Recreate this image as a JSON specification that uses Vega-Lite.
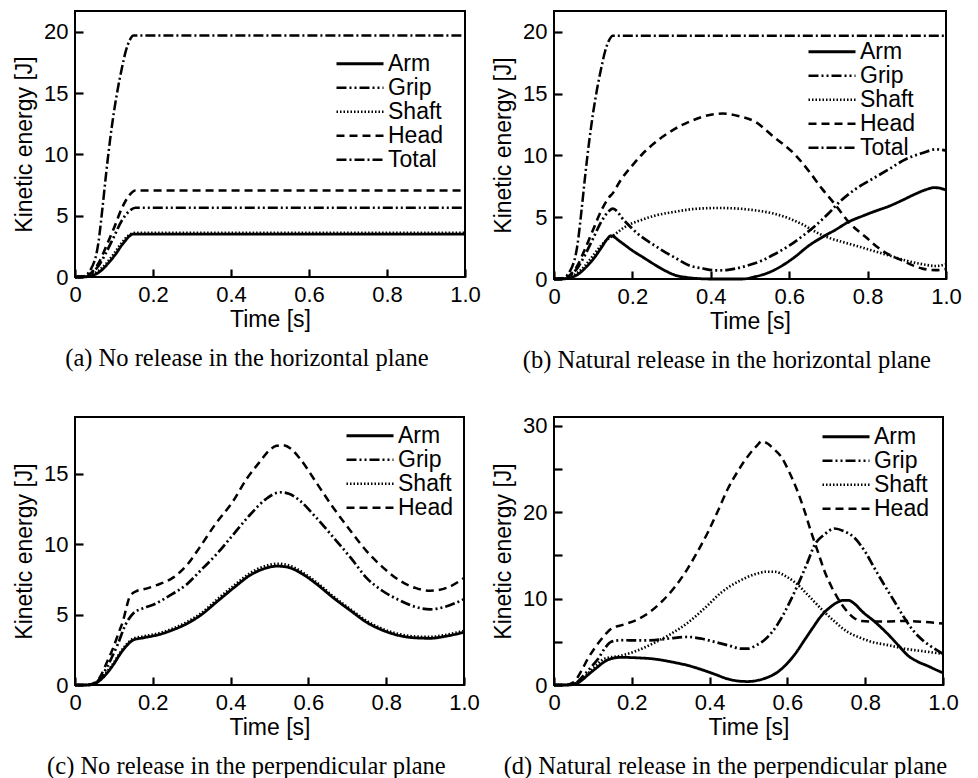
{
  "$schema": "https://vega.github.io/schema/vega-lite/v6.json",
  "background": "white",
  "padding": {"left": 12, "top": 10, "right": 5, "bottom": 0},
  "columns": 2,
  "bounds": "flush",
  "spacing": {"row": 138, "column": 89},
  "resolve": {"scale": {"strokeDash": "independent", "strokeWidth": "independent", "y": "independent"}, "legend": {"strokeDash": "independent"}},
  "config": {
    "view": {"stroke": "black", "strokeWidth": 2},
    "axis": {"labelFont": "Liberation Sans", "labelFontSize": 22, "titleFont": "Liberation Sans", "titleFontSize": 23, "titleFontWeight": "normal", "labelColor": "black", "titleColor": "black", "domain": false, "grid": false, "labelFlush": false},
    "axisX": {"titlePadding": 3},
    "axisY": {"titlePadding": 7},
    "legend": {"orient": "none", "title": null, "labelFont": "Liberation Sans", "labelFontSize": 23, "labelColor": "black", "symbolType": "stroke", "symbolSize": 2209, "symbolStrokeColor": "black", "symbolStrokeWidth": 2.5, "clipHeight": 21.5, "rowPadding": 0, "labelOffset": 3, "padding": 0},
    "title": {"font": "Liberation Serif", "fontSize": 24.5, "fontWeight": "normal", "color": "black", "orient": "bottom", "anchor": "middle", "frame": "bounds", "offset": 16}
  },
  "datasets": {
    "a": [
      {"t":0,"s":"Arm","v":0},{"t":0.02,"s":"Arm","v":0},{"t":0.04,"s":"Arm","v":0.1},{"t":0.06,"s":"Arm","v":0.35},{"t":0.073,"s":"Arm","v":0.7},{"t":0.09,"s":"Arm","v":1.3},{"t":0.105,"s":"Arm","v":1.9},{"t":0.12,"s":"Arm","v":2.6},{"t":0.13,"s":"Arm","v":3.0},{"t":0.14,"s":"Arm","v":3.35},{"t":0.15,"s":"Arm","v":3.5},{"t":1,"s":"Arm","v":3.5},
      {"t":0,"s":"Grip","v":0},{"t":0.02,"s":"Grip","v":0.03},{"t":0.04,"s":"Grip","v":0.25},{"t":0.06,"s":"Grip","v":0.9},{"t":0.08,"s":"Grip","v":2.0},{"t":0.1,"s":"Grip","v":3.3},{"t":0.12,"s":"Grip","v":4.6},{"t":0.14,"s":"Grip","v":5.4},{"t":0.155,"s":"Grip","v":5.65},{"t":1,"s":"Grip","v":5.65},
      {"t":0,"s":"Shaft","v":0},{"t":0.02,"s":"Shaft","v":0.02},{"t":0.04,"s":"Shaft","v":0.15},{"t":0.06,"s":"Shaft","v":0.5},{"t":0.08,"s":"Shaft","v":1.1},{"t":0.1,"s":"Shaft","v":1.9},{"t":0.12,"s":"Shaft","v":2.8},{"t":0.14,"s":"Shaft","v":3.45},{"t":0.155,"s":"Shaft","v":3.6},{"t":1,"s":"Shaft","v":3.6},
      {"t":0,"s":"Head","v":0},{"t":0.02,"s":"Head","v":0.03},{"t":0.04,"s":"Head","v":0.3},{"t":0.06,"s":"Head","v":1.1},{"t":0.08,"s":"Head","v":2.5},{"t":0.1,"s":"Head","v":4.0},{"t":0.12,"s":"Head","v":5.6},{"t":0.14,"s":"Head","v":6.7},{"t":0.155,"s":"Head","v":7.05},{"t":1,"s":"Head","v":7.05},
      {"t":0,"s":"Total","v":0},{"t":0.02,"s":"Total","v":0.05},{"t":0.04,"s":"Total","v":0.6},{"t":0.06,"s":"Total","v":2.8},{"t":0.07,"s":"Total","v":5.5},{"t":0.08,"s":"Total","v":8.5},{"t":0.09,"s":"Total","v":11.2},{"t":0.1,"s":"Total","v":13.5},{"t":0.11,"s":"Total","v":15.4},{"t":0.12,"s":"Total","v":17.0},{"t":0.13,"s":"Total","v":18.4},{"t":0.14,"s":"Total","v":19.3},{"t":0.15,"s":"Total","v":19.7},{"t":1,"s":"Total","v":19.7}
    ],
    "b": [
      {"t":0,"s":"Arm","v":0},{"t":0.02,"s":"Arm","v":0},{"t":0.04,"s":"Arm","v":0.1},{"t":0.06,"s":"Arm","v":0.35},{"t":0.08,"s":"Arm","v":0.9},{"t":0.1,"s":"Arm","v":1.6},{"t":0.12,"s":"Arm","v":2.5},{"t":0.135,"s":"Arm","v":3.2},{"t":0.145,"s":"Arm","v":3.5},{"t":0.17,"s":"Arm","v":3.0},{"t":0.2,"s":"Arm","v":2.3},{"t":0.23,"s":"Arm","v":1.7},{"t":0.26,"s":"Arm","v":1.1},{"t":0.285,"s":"Arm","v":0.65},{"t":0.31,"s":"Arm","v":0.3},{"t":0.34,"s":"Arm","v":0.12},{"t":0.37,"s":"Arm","v":0.03},{"t":0.4,"s":"Arm","v":0},{"t":0.48,"s":"Arm","v":0},{"t":0.515,"s":"Arm","v":0.2},{"t":0.55,"s":"Arm","v":0.55},{"t":0.583,"s":"Arm","v":1.1},{"t":0.615,"s":"Arm","v":1.8},{"t":0.65,"s":"Arm","v":2.7},{"t":0.685,"s":"Arm","v":3.4},{"t":0.719,"s":"Arm","v":4.0},{"t":0.75,"s":"Arm","v":4.6},{"t":0.787,"s":"Arm","v":5.1},{"t":0.82,"s":"Arm","v":5.5},{"t":0.855,"s":"Arm","v":5.9},{"t":0.89,"s":"Arm","v":6.4},{"t":0.923,"s":"Arm","v":6.9},{"t":0.95,"s":"Arm","v":7.25},{"t":0.969,"s":"Arm","v":7.4},{"t":0.985,"s":"Arm","v":7.35},{"t":1,"s":"Arm","v":7.2},
      {"t":0,"s":"Grip","v":0},{"t":0.02,"s":"Grip","v":0.03},{"t":0.04,"s":"Grip","v":0.25},{"t":0.06,"s":"Grip","v":0.9},{"t":0.08,"s":"Grip","v":2.0},{"t":0.1,"s":"Grip","v":3.3},{"t":0.12,"s":"Grip","v":4.6},{"t":0.14,"s":"Grip","v":5.5},{"t":0.15,"s":"Grip","v":5.7},{"t":0.18,"s":"Grip","v":4.7},{"t":0.22,"s":"Grip","v":3.5},{"t":0.25,"s":"Grip","v":2.85},{"t":0.277,"s":"Grip","v":2.3},{"t":0.31,"s":"Grip","v":1.7},{"t":0.345,"s":"Grip","v":1.1},{"t":0.38,"s":"Grip","v":0.85},{"t":0.412,"s":"Grip","v":0.7},{"t":0.44,"s":"Grip","v":0.72},{"t":0.463,"s":"Grip","v":0.84},{"t":0.5,"s":"Grip","v":1.15},{"t":0.531,"s":"Grip","v":1.5},{"t":0.565,"s":"Grip","v":2.05},{"t":0.6,"s":"Grip","v":2.7},{"t":0.635,"s":"Grip","v":3.5},{"t":0.668,"s":"Grip","v":4.35},{"t":0.7,"s":"Grip","v":5.3},{"t":0.727,"s":"Grip","v":6.2},{"t":0.77,"s":"Grip","v":7.3},{"t":0.812,"s":"Grip","v":8.1},{"t":0.855,"s":"Grip","v":8.9},{"t":0.897,"s":"Grip","v":9.7},{"t":0.94,"s":"Grip","v":10.2},{"t":0.974,"s":"Grip","v":10.5},{"t":1,"s":"Grip","v":10.4},
      {"t":0,"s":"Shaft","v":0},{"t":0.02,"s":"Shaft","v":0.02},{"t":0.04,"s":"Shaft","v":0.15},{"t":0.06,"s":"Shaft","v":0.5},{"t":0.08,"s":"Shaft","v":1.1},{"t":0.1,"s":"Shaft","v":1.9},{"t":0.12,"s":"Shaft","v":2.7},{"t":0.14,"s":"Shaft","v":3.3},{"t":0.15,"s":"Shaft","v":3.5},{"t":0.18,"s":"Shaft","v":4.2},{"t":0.22,"s":"Shaft","v":4.75},{"t":0.26,"s":"Shaft","v":5.15},{"t":0.31,"s":"Shaft","v":5.45},{"t":0.36,"s":"Shaft","v":5.68},{"t":0.42,"s":"Shaft","v":5.75},{"t":0.47,"s":"Shaft","v":5.7},{"t":0.515,"s":"Shaft","v":5.55},{"t":0.56,"s":"Shaft","v":5.3},{"t":0.6,"s":"Shaft","v":4.9},{"t":0.635,"s":"Shaft","v":4.4},{"t":0.668,"s":"Shaft","v":3.8},{"t":0.7,"s":"Shaft","v":3.35},{"t":0.736,"s":"Shaft","v":3.0},{"t":0.775,"s":"Shaft","v":2.65},{"t":0.812,"s":"Shaft","v":2.3},{"t":0.855,"s":"Shaft","v":1.9},{"t":0.897,"s":"Shaft","v":1.5},{"t":0.94,"s":"Shaft","v":1.2},{"t":0.974,"s":"Shaft","v":1.05},{"t":1,"s":"Shaft","v":1.2},
      {"t":0,"s":"Head","v":0},{"t":0.02,"s":"Head","v":0.03},{"t":0.04,"s":"Head","v":0.3},{"t":0.06,"s":"Head","v":1.1},{"t":0.08,"s":"Head","v":2.5},{"t":0.1,"s":"Head","v":4.0},{"t":0.12,"s":"Head","v":5.5},{"t":0.14,"s":"Head","v":6.6},{"t":0.15,"s":"Head","v":6.95},{"t":0.17,"s":"Head","v":8.0},{"t":0.2,"s":"Head","v":9.2},{"t":0.225,"s":"Head","v":10.1},{"t":0.26,"s":"Head","v":11.1},{"t":0.3,"s":"Head","v":12.0},{"t":0.35,"s":"Head","v":12.8},{"t":0.4,"s":"Head","v":13.3},{"t":0.43,"s":"Head","v":13.4},{"t":0.47,"s":"Head","v":13.2},{"t":0.515,"s":"Head","v":12.7},{"t":0.557,"s":"Head","v":11.6},{"t":0.617,"s":"Head","v":10.0},{"t":0.651,"s":"Head","v":8.7},{"t":0.684,"s":"Head","v":7.3},{"t":0.718,"s":"Head","v":6.0},{"t":0.752,"s":"Head","v":4.6},{"t":0.795,"s":"Head","v":3.4},{"t":0.837,"s":"Head","v":2.3},{"t":0.888,"s":"Head","v":1.5},{"t":0.94,"s":"Head","v":0.84},{"t":0.974,"s":"Head","v":0.72},{"t":1,"s":"Head","v":0.8},
      {"t":0,"s":"Total","v":0},{"t":0.02,"s":"Total","v":0.05},{"t":0.04,"s":"Total","v":0.6},{"t":0.06,"s":"Total","v":2.8},{"t":0.07,"s":"Total","v":5.5},{"t":0.08,"s":"Total","v":8.5},{"t":0.09,"s":"Total","v":11.2},{"t":0.1,"s":"Total","v":13.5},{"t":0.11,"s":"Total","v":15.4},{"t":0.12,"s":"Total","v":17.0},{"t":0.13,"s":"Total","v":18.4},{"t":0.14,"s":"Total","v":19.3},{"t":0.15,"s":"Total","v":19.7},{"t":1,"s":"Total","v":19.7}
    ],
    "c": [
      {"t":0,"s":"Arm","v":0},{"t":0.03,"s":"Arm","v":0},{"t":0.047,"s":"Arm","v":0.05},{"t":0.065,"s":"Arm","v":0.35},{"t":0.081,"s":"Arm","v":0.8},{"t":0.1,"s":"Arm","v":1.5},{"t":0.116,"s":"Arm","v":2.2},{"t":0.133,"s":"Arm","v":2.8},{"t":0.15,"s":"Arm","v":3.2},{"t":0.175,"s":"Arm","v":3.35},{"t":0.218,"s":"Arm","v":3.6},{"t":0.25,"s":"Arm","v":3.9},{"t":0.287,"s":"Arm","v":4.35},{"t":0.325,"s":"Arm","v":5.0},{"t":0.364,"s":"Arm","v":5.9},{"t":0.41,"s":"Arm","v":6.95},{"t":0.45,"s":"Arm","v":7.8},{"t":0.49,"s":"Arm","v":8.3},{"t":0.52,"s":"Arm","v":8.45},{"t":0.55,"s":"Arm","v":8.35},{"t":0.578,"s":"Arm","v":8.0},{"t":0.62,"s":"Arm","v":7.2},{"t":0.664,"s":"Arm","v":6.2},{"t":0.71,"s":"Arm","v":5.25},{"t":0.75,"s":"Arm","v":4.45},{"t":0.79,"s":"Arm","v":3.9},{"t":0.836,"s":"Arm","v":3.5},{"t":0.875,"s":"Arm","v":3.35},{"t":0.913,"s":"Arm","v":3.32},{"t":0.95,"s":"Arm","v":3.45},{"t":1,"s":"Arm","v":3.75},
      {"t":0,"s":"Grip","v":0},{"t":0.03,"s":"Grip","v":0},{"t":0.05,"s":"Grip","v":0.1},{"t":0.07,"s":"Grip","v":0.7},{"t":0.09,"s":"Grip","v":1.7},{"t":0.11,"s":"Grip","v":2.9},{"t":0.13,"s":"Grip","v":4.3},{"t":0.15,"s":"Grip","v":5.1},{"t":0.175,"s":"Grip","v":5.45},{"t":0.201,"s":"Grip","v":5.7},{"t":0.24,"s":"Grip","v":6.3},{"t":0.287,"s":"Grip","v":7.15},{"t":0.325,"s":"Grip","v":8.2},{"t":0.364,"s":"Grip","v":9.3},{"t":0.41,"s":"Grip","v":10.8},{"t":0.45,"s":"Grip","v":12.1},{"t":0.49,"s":"Grip","v":13.2},{"t":0.527,"s":"Grip","v":13.7},{"t":0.55,"s":"Grip","v":13.6},{"t":0.578,"s":"Grip","v":13.1},{"t":0.62,"s":"Grip","v":11.9},{"t":0.664,"s":"Grip","v":10.5},{"t":0.71,"s":"Grip","v":9.0},{"t":0.75,"s":"Grip","v":7.6},{"t":0.79,"s":"Grip","v":6.7},{"t":0.836,"s":"Grip","v":6.0},{"t":0.875,"s":"Grip","v":5.55},{"t":0.913,"s":"Grip","v":5.38},{"t":0.95,"s":"Grip","v":5.55},{"t":1,"s":"Grip","v":6.1},
      {"t":0,"s":"Shaft","v":0},{"t":0.03,"s":"Shaft","v":0},{"t":0.047,"s":"Shaft","v":0.08},{"t":0.065,"s":"Shaft","v":0.42},{"t":0.081,"s":"Shaft","v":0.9},{"t":0.1,"s":"Shaft","v":1.6},{"t":0.116,"s":"Shaft","v":2.3},{"t":0.133,"s":"Shaft","v":2.9},{"t":0.15,"s":"Shaft","v":3.3},{"t":0.175,"s":"Shaft","v":3.45},{"t":0.218,"s":"Shaft","v":3.7},{"t":0.25,"s":"Shaft","v":4.0},{"t":0.287,"s":"Shaft","v":4.47},{"t":0.325,"s":"Shaft","v":5.12},{"t":0.364,"s":"Shaft","v":6.05},{"t":0.41,"s":"Shaft","v":7.1},{"t":0.45,"s":"Shaft","v":7.95},{"t":0.49,"s":"Shaft","v":8.47},{"t":0.52,"s":"Shaft","v":8.62},{"t":0.55,"s":"Shaft","v":8.5},{"t":0.578,"s":"Shaft","v":8.13},{"t":0.62,"s":"Shaft","v":7.32},{"t":0.664,"s":"Shaft","v":6.3},{"t":0.71,"s":"Shaft","v":5.35},{"t":0.75,"s":"Shaft","v":4.55},{"t":0.79,"s":"Shaft","v":4.0},{"t":0.836,"s":"Shaft","v":3.6},{"t":0.875,"s":"Shaft","v":3.45},{"t":0.913,"s":"Shaft","v":3.42},{"t":0.95,"s":"Shaft","v":3.55},{"t":1,"s":"Shaft","v":3.85},
      {"t":0,"s":"Head","v":0},{"t":0.03,"s":"Head","v":0},{"t":0.05,"s":"Head","v":0.15},{"t":0.064,"s":"Head","v":0.55},{"t":0.08,"s":"Head","v":1.5},{"t":0.099,"s":"Head","v":2.7},{"t":0.112,"s":"Head","v":3.7},{"t":0.124,"s":"Head","v":4.6},{"t":0.133,"s":"Head","v":5.6},{"t":0.141,"s":"Head","v":6.3},{"t":0.16,"s":"Head","v":6.7},{"t":0.176,"s":"Head","v":6.8},{"t":0.21,"s":"Head","v":7.1},{"t":0.253,"s":"Head","v":7.65},{"t":0.29,"s":"Head","v":8.6},{"t":0.321,"s":"Head","v":9.8},{"t":0.36,"s":"Head","v":11.4},{"t":0.407,"s":"Head","v":13.1},{"t":0.44,"s":"Head","v":14.6},{"t":0.476,"s":"Head","v":15.9},{"t":0.5,"s":"Head","v":16.7},{"t":0.518,"s":"Head","v":17.0},{"t":0.535,"s":"Head","v":17.05},{"t":0.555,"s":"Head","v":16.8},{"t":0.578,"s":"Head","v":16.1},{"t":0.62,"s":"Head","v":14.4},{"t":0.664,"s":"Head","v":12.6},{"t":0.71,"s":"Head","v":10.9},{"t":0.75,"s":"Head","v":9.5},{"t":0.79,"s":"Head","v":8.4},{"t":0.836,"s":"Head","v":7.4},{"t":0.875,"s":"Head","v":6.9},{"t":0.913,"s":"Head","v":6.7},{"t":0.955,"s":"Head","v":6.9},{"t":1,"s":"Head","v":7.6}
    ],
    "d": [
      {"t":0,"s":"Arm","v":0},{"t":0.03,"s":"Arm","v":0},{"t":0.055,"s":"Arm","v":0.1},{"t":0.07,"s":"Arm","v":0.5},{"t":0.087,"s":"Arm","v":1.16},{"t":0.11,"s":"Arm","v":2.0},{"t":0.13,"s":"Arm","v":2.7},{"t":0.147,"s":"Arm","v":3.05},{"t":0.173,"s":"Arm","v":3.2},{"t":0.21,"s":"Arm","v":3.15},{"t":0.259,"s":"Arm","v":3.0},{"t":0.31,"s":"Arm","v":2.6},{"t":0.345,"s":"Arm","v":2.25},{"t":0.378,"s":"Arm","v":1.8},{"t":0.41,"s":"Arm","v":1.3},{"t":0.447,"s":"Arm","v":0.7},{"t":0.475,"s":"Arm","v":0.45},{"t":0.499,"s":"Arm","v":0.4},{"t":0.525,"s":"Arm","v":0.55},{"t":0.55,"s":"Arm","v":0.9},{"t":0.575,"s":"Arm","v":1.5},{"t":0.593,"s":"Arm","v":2.2},{"t":0.62,"s":"Arm","v":3.6},{"t":0.644,"s":"Arm","v":5.2},{"t":0.665,"s":"Arm","v":6.6},{"t":0.687,"s":"Arm","v":8.0},{"t":0.71,"s":"Arm","v":9.0},{"t":0.73,"s":"Arm","v":9.6},{"t":0.745,"s":"Arm","v":9.8},{"t":0.756,"s":"Arm","v":9.8},{"t":0.775,"s":"Arm","v":9.3},{"t":0.79,"s":"Arm","v":8.6},{"t":0.825,"s":"Arm","v":7.3},{"t":0.858,"s":"Arm","v":5.9},{"t":0.885,"s":"Arm","v":4.6},{"t":0.91,"s":"Arm","v":3.4},{"t":0.935,"s":"Arm","v":2.7},{"t":0.961,"s":"Arm","v":2.2},{"t":0.98,"s":"Arm","v":1.8},{"t":1,"s":"Arm","v":1.4},
      {"t":0,"s":"Grip","v":0},{"t":0.03,"s":"Grip","v":0},{"t":0.055,"s":"Grip","v":0.2},{"t":0.08,"s":"Grip","v":1.3},{"t":0.1,"s":"Grip","v":2.3},{"t":0.113,"s":"Grip","v":3.0},{"t":0.13,"s":"Grip","v":4.2},{"t":0.147,"s":"Grip","v":5.0},{"t":0.173,"s":"Grip","v":5.18},{"t":0.215,"s":"Grip","v":5.15},{"t":0.259,"s":"Grip","v":5.2},{"t":0.3,"s":"Grip","v":5.4},{"t":0.344,"s":"Grip","v":5.56},{"t":0.38,"s":"Grip","v":5.35},{"t":0.413,"s":"Grip","v":4.98},{"t":0.455,"s":"Grip","v":4.5},{"t":0.48,"s":"Grip","v":4.2},{"t":0.499,"s":"Grip","v":4.2},{"t":0.52,"s":"Grip","v":4.6},{"t":0.541,"s":"Grip","v":5.2},{"t":0.562,"s":"Grip","v":6.2},{"t":0.584,"s":"Grip","v":7.7},{"t":0.605,"s":"Grip","v":9.5},{"t":0.627,"s":"Grip","v":11.6},{"t":0.65,"s":"Grip","v":14.0},{"t":0.67,"s":"Grip","v":16.2},{"t":0.695,"s":"Grip","v":17.4},{"t":0.721,"s":"Grip","v":18.1},{"t":0.745,"s":"Grip","v":17.8},{"t":0.773,"s":"Grip","v":17.0},{"t":0.8,"s":"Grip","v":15.4},{"t":0.824,"s":"Grip","v":13.5},{"t":0.85,"s":"Grip","v":11.5},{"t":0.876,"s":"Grip","v":9.6},{"t":0.9,"s":"Grip","v":7.8},{"t":0.927,"s":"Grip","v":6.1},{"t":0.95,"s":"Grip","v":5.1},{"t":0.978,"s":"Grip","v":4.2},{"t":1,"s":"Grip","v":3.6},
      {"t":0,"s":"Shaft","v":0},{"t":0.03,"s":"Shaft","v":0},{"t":0.055,"s":"Shaft","v":0.2},{"t":0.08,"s":"Shaft","v":1.0},{"t":0.105,"s":"Shaft","v":2.1},{"t":0.13,"s":"Shaft","v":3.05},{"t":0.173,"s":"Shaft","v":3.4},{"t":0.215,"s":"Shaft","v":4.0},{"t":0.259,"s":"Shaft","v":4.9},{"t":0.3,"s":"Shaft","v":5.9},{"t":0.344,"s":"Shaft","v":7.2},{"t":0.39,"s":"Shaft","v":9.0},{"t":0.43,"s":"Shaft","v":10.7},{"t":0.475,"s":"Shaft","v":12.0},{"t":0.516,"s":"Shaft","v":12.8},{"t":0.545,"s":"Shaft","v":13.1},{"t":0.567,"s":"Shaft","v":13.1},{"t":0.595,"s":"Shaft","v":12.6},{"t":0.619,"s":"Shaft","v":11.9},{"t":0.655,"s":"Shaft","v":10.3},{"t":0.687,"s":"Shaft","v":8.8},{"t":0.72,"s":"Shaft","v":7.4},{"t":0.756,"s":"Shaft","v":6.1},{"t":0.785,"s":"Shaft","v":5.5},{"t":0.816,"s":"Shaft","v":5.0},{"t":0.86,"s":"Shaft","v":4.6},{"t":0.901,"s":"Shaft","v":4.2},{"t":0.95,"s":"Shaft","v":3.9},{"t":1,"s":"Shaft","v":3.6},
      {"t":0,"s":"Head","v":0},{"t":0.03,"s":"Head","v":0},{"t":0.05,"s":"Head","v":0.3},{"t":0.07,"s":"Head","v":1.6},{"t":0.087,"s":"Head","v":3.05},{"t":0.105,"s":"Head","v":4.3},{"t":0.12,"s":"Head","v":5.2},{"t":0.135,"s":"Head","v":6.0},{"t":0.147,"s":"Head","v":6.5},{"t":0.18,"s":"Head","v":7.0},{"t":0.216,"s":"Head","v":7.6},{"t":0.245,"s":"Head","v":8.4},{"t":0.276,"s":"Head","v":9.6},{"t":0.31,"s":"Head","v":11.3},{"t":0.344,"s":"Head","v":13.5},{"t":0.37,"s":"Head","v":15.5},{"t":0.396,"s":"Head","v":17.7},{"t":0.42,"s":"Head","v":20.0},{"t":0.447,"s":"Head","v":22.7},{"t":0.475,"s":"Head","v":24.9},{"t":0.499,"s":"Head","v":26.5},{"t":0.52,"s":"Head","v":27.6},{"t":0.535,"s":"Head","v":28.2},{"t":0.55,"s":"Head","v":27.9},{"t":0.565,"s":"Head","v":27.3},{"t":0.584,"s":"Head","v":26.4},{"t":0.605,"s":"Head","v":24.6},{"t":0.627,"s":"Head","v":22.3},{"t":0.645,"s":"Head","v":20.0},{"t":0.661,"s":"Head","v":17.7},{"t":0.68,"s":"Head","v":15.2},{"t":0.696,"s":"Head","v":13.1},{"t":0.713,"s":"Head","v":11.4},{"t":0.73,"s":"Head","v":10.0},{"t":0.75,"s":"Head","v":8.7},{"t":0.773,"s":"Head","v":7.7},{"t":0.79,"s":"Head","v":7.4},{"t":0.816,"s":"Head","v":7.35},{"t":0.86,"s":"Head","v":7.35},{"t":0.901,"s":"Head","v":7.4},{"t":0.95,"s":"Head","v":7.3},{"t":1,"s":"Head","v":7.1}
    ]
  },
  "concat": [
    {
      "width": 390, "height": 266,
      "data": {"name": "a"},
      "title": {"text": "(a) No release in the horizontal plane"},
      "mark": {"type": "line", "interpolate": "monotone", "color": "black"},
      "encoding": {
        "x": {"field": "t", "type": "quantitative", "title": "Time [s]", "scale": {"domain": [0, 1], "nice": false}, "axis": {"values": [0, 0.2, 0.4, 0.6, 0.8, 1], "labelExpr": "datum.value == 0 ? '0' : format(datum.value, '.1f')", "ticks": true, "tickSize": -8, "tickColor": "#000000", "tickWidth": 2.2, "tickOpacity": 1, "labelPadding": 15}},
        "y": {"field": "v", "type": "quantitative", "title": "Kinetic energy [J]", "scale": {"domain": [0, 21.7], "nice": false}, "axis": {"values": [0, 5, 10, 15, 20], "ticks": true, "tickSize": -8, "tickColor": "#000000", "tickWidth": 2.2, "tickOpacity": 1, "labelPadding": 15}},
        "strokeDash": {"field": "s", "type": "nominal", "scale": {"domain": ["Arm", "Grip", "Shaft", "Head", "Total"], "range": [[1, 0], [10, 3, 2, 3, 2, 3], [1.5, 2], [8, 5], [10, 3, 2, 3]]}, "legend": {"legendX": 260, "legendY": 42}},
        "strokeWidth": {"field": "s", "type": "ordinal", "scale": {"domain": ["Arm", "Grip", "Shaft", "Head", "Total"], "range": [2.8, 2.5, 1.8, 2.5, 2.5]}, "legend": null}
      }
    },
    {
      "width": 392, "height": 268,
      "data": {"name": "b"},
      "title": {"text": "(b) Natural release in the horizontal plane"},
      "mark": {"type": "line", "interpolate": "monotone", "color": "black"},
      "encoding": {
        "x": {"field": "t", "type": "quantitative", "title": "Time [s]", "scale": {"domain": [0, 1], "nice": false}, "axis": {"values": [0, 0.2, 0.4, 0.6, 0.8, 1], "labelExpr": "datum.value == 0 ? '0' : format(datum.value, '.1f')", "ticks": true, "tickSize": -8, "tickColor": "#000000", "tickWidth": 2.2, "tickOpacity": 1, "labelPadding": 15}},
        "y": {"field": "v", "type": "quantitative", "title": "Kinetic energy [J]", "scale": {"domain": [0, 21.7], "nice": false}, "axis": {"values": [0, 5, 10, 15, 20], "ticks": true, "tickSize": -8, "tickColor": "#000000", "tickWidth": 2.2, "tickOpacity": 1, "labelPadding": 15}},
        "strokeDash": {"field": "s", "type": "nominal", "scale": {"domain": ["Arm", "Grip", "Shaft", "Head", "Total"], "range": [[1, 0], [10, 3, 2, 3, 2, 3], [1.5, 2], [8, 5], [10, 3, 2, 3]]}, "legend": {"legendX": 253, "legendY": 30}},
        "strokeWidth": {"field": "s", "type": "ordinal", "scale": {"domain": ["Arm", "Grip", "Shaft", "Head", "Total"], "range": [2.8, 2.5, 1.8, 2.5, 2.5]}, "legend": null}
      }
    },
    {
      "width": 389, "height": 268,
      "data": {"name": "c"},
      "title": {"text": "(c) No release in the perpendicular plane"},
      "mark": {"type": "line", "interpolate": "monotone", "color": "black"},
      "encoding": {
        "x": {"field": "t", "type": "quantitative", "title": "Time [s]", "scale": {"domain": [0, 1], "nice": false}, "axis": {"values": [0, 0.2, 0.4, 0.6, 0.8, 1], "labelExpr": "datum.value == 0 ? '0' : format(datum.value, '.1f')", "ticks": true, "tickSize": -8, "tickColor": "#000000", "tickWidth": 2.2, "tickOpacity": 1, "labelPadding": 15}},
        "y": {"field": "v", "type": "quantitative", "title": "Kinetic energy [J]", "scale": {"domain": [0, 19.05], "nice": false}, "axis": {"values": [0, 5, 10, 15], "ticks": true, "tickSize": -8, "tickColor": "#000000", "tickWidth": 2.2, "tickOpacity": 1, "labelPadding": 15}},
        "strokeDash": {"field": "s", "type": "nominal", "scale": {"domain": ["Arm", "Grip", "Shaft", "Head"], "range": [[1, 0], [10, 3, 2, 3, 2, 3], [1.5, 2], [8, 5]]}, "legend": {"legendX": 270, "legendY": 8}},
        "strokeWidth": {"field": "s", "type": "ordinal", "scale": {"domain": ["Arm", "Grip", "Shaft", "Head"], "range": [2.8, 2.5, 1.8, 2.5]}, "legend": null}
      }
    },
    {
      "width": 389, "height": 268,
      "data": {"name": "d"},
      "title": {"text": "(d) Natural release in the perpendicular plane"},
      "mark": {"type": "line", "interpolate": "monotone", "color": "black"},
      "encoding": {
        "x": {"field": "t", "type": "quantitative", "title": "Time [s]", "scale": {"domain": [0, 1], "nice": false}, "axis": {"values": [0, 0.2, 0.4, 0.6, 0.8, 1], "labelExpr": "datum.value == 0 ? '0' : format(datum.value, '.1f')", "ticks": true, "tickSize": -8, "tickColor": "#000000", "tickWidth": 2.2, "tickOpacity": 1, "labelPadding": 15}},
        "y": {"field": "v", "type": "quantitative", "title": "Kinetic energy [J]", "scale": {"domain": [0, 31], "nice": false}, "axis": {"values": [0, 5, 10, 15, 20, 25, 30], "labelExpr": "datum.value % 10 === 0 ? datum.label : ''", "ticks": true, "tickSize": -8, "tickColor": "#000000", "tickWidth": 2.2, "tickOpacity": 1, "labelPadding": 15}},
        "strokeDash": {"field": "s", "type": "nominal", "scale": {"domain": ["Arm", "Grip", "Shaft", "Head"], "range": [[1, 0], [10, 3, 2, 3, 2, 3], [1.5, 2], [8, 5]]}, "legend": {"legendX": 267, "legendY": 9}},
        "strokeWidth": {"field": "s", "type": "ordinal", "scale": {"domain": ["Arm", "Grip", "Shaft", "Head"], "range": [2.8, 2.5, 1.8, 2.5]}, "legend": null}
      }
    }
  ]
}
